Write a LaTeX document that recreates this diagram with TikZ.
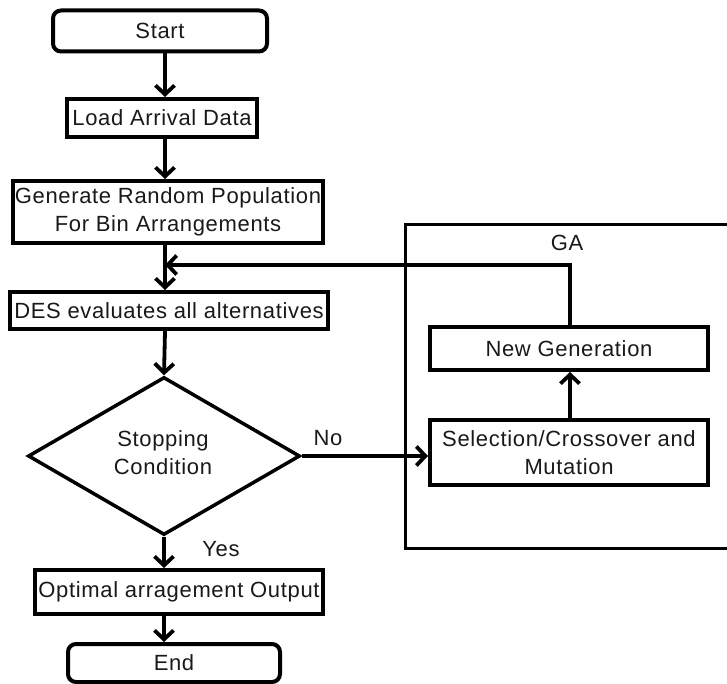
\documentclass[tikz,border=0pt]{standalone}
\usepackage{fontspec}
\setmainfont{Liberation Sans}[LetterSpace=3]
\usetikzlibrary{shapes.geometric,arrows.meta}
\begin{document}
\begin{tikzpicture}[x=1pt,y=-1pt,
  every node/.style={font=\fontsize{22}{28}\selectfont, text=black!90},
  box/.style={draw, line width=4pt, inner sep=0pt, align=center},
  term/.style={box, rounded corners=8pt},
  arr/.style={line width=3.8pt, -{Straight Barb[length=9pt,width=19pt,line width=3.8pt]}},
  ln/.style={line width=3.5pt}]
\useasboundingbox (0,0) rectangle (727,684);
\coordinate (axis) at (165,0);
\node[term, minimum width=214pt, minimum height=41pt] (start) at (160,31) {Start};
\node[box, minimum width=190pt, minimum height=38pt] (load) at (162,118) {Load Arrival Data};
\node[box, minimum width=310pt, minimum height=62pt] (gen) at (168,212) {Generate Random Population\\For Bin Arrangements};
\node[box, minimum width=318pt, minimum height=37pt] (des) at (169,310.5) {DES evaluates all alternatives};
\node[draw, line width=3.5pt, shape=diamond, inner sep=0pt, minimum width=272pt, minimum height=158pt, align=center] (stop) at (164,456) {};
\node[align=center] (stoptxt) at (163,453) {Stopping\\Condition};
\node[box, minimum width=288pt, minimum height=44pt] (opt) at (179,592) {Optimal arragement Output};
\node[term, minimum width=212pt, minimum height=38pt] (end) at (174,663) {End};
% GA frame
\coordinate (fr1) at (727,225);
\coordinate (fr2) at (405,225);
\coordinate (fr3) at (405,548);
\coordinate (fr4) at (727,548);
\draw[ln, line width=3pt] (fr1) -- (fr2) -- (fr3) -- (fr4);
\node (ga) at (567,243) {GA};
\node[box, minimum width=278pt, minimum height=43pt] (newgen) at (569,348.5) {New Generation};
\node[box, minimum width=278pt, minimum height=65pt] (sel) at (569,452.5) {Selection/Crossover and\\Mutation};
% connectors
\draw[arr] (start.south -| axis) -- (load.north -| axis);
\draw[arr] (load.south -| axis) -- (gen.north -| axis);
\draw[arr] (gen.south -| axis) -- (des.north -| axis);
\draw[arr] (des.south -| axis) -- (stop.north);
\draw[arr] (stop.south) -- (opt.north -| stop.south);
\draw[arr] (opt.south -| stop.south) -- (end.north -| stop.south);
\draw[arr] (stop.east) -- (sel.west |- stop.east);
\draw[arr] (sel.north -| 570,0) -- (newgen.south -| 570,0);
\coordinate (fb) at (570,265);
\draw[arr] (newgen.north -| fb) -- (fb) -- (axis |- fb);
\node (no) at (328,438) {No};
\node (yes) at (221,549) {Yes};
\end{tikzpicture}
\end{document}
